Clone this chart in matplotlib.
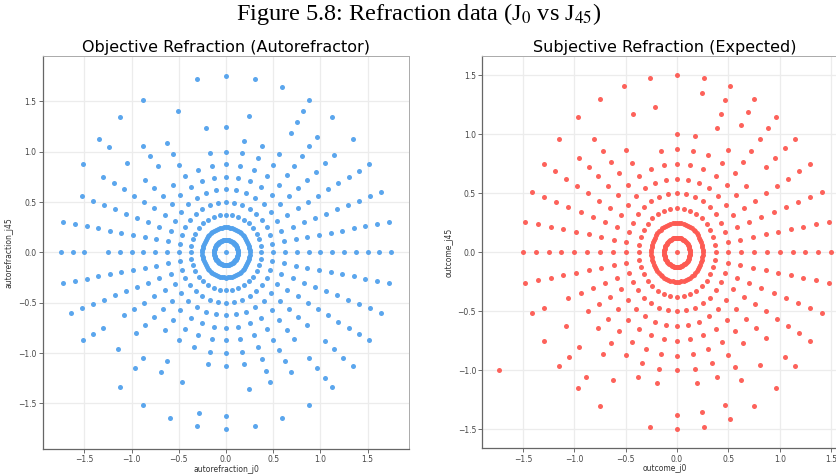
import numpy as np
import matplotlib
matplotlib.use("Agg")
import matplotlib.pyplot as plt

plt.rcParams['mathtext.fontset'] = 'stix'

# ---------------- data (polar form: magnitude of the J0/J45 vector, direction in degrees) ----
SPOKES = [0, 10, 20, 30, 40, 50, 60, 70, 80, 90, 100, 110, 120, 130, 140, 150, 160, 170,
          180, 190, 200, 210, 220, 230, 240, 250, 260, 270, 280, 290, 300, 310, 320, 330, 340, 350]
SPOKES_FINE = [0, 5, 10, 15, 20, 25, 30, 35, 40, 45, 50, 55, 60, 65, 70, 75, 80, 85, 90, 95,
               100, 105, 110, 115, 120, 125, 130, 135, 140, 145, 150, 155, 160, 165, 170, 175,
               180, 185, 190, 195, 200, 205, 210, 215, 220, 225, 230, 235, 240, 245, 250, 255,
               260, 265, 270, 275, 280, 285, 290, 295, 300, 305, 310, 315, 320, 325, 330, 335,
               340, 345, 350, 355]

# Objective refraction (autorefractor)
auto_dense_rings = [0.125, 0.25]
auto_full_rings = [0.375, 0.5, 0.625, 0.75, 0.875]
auto_r100 = [s for s in SPOKES if s not in (110, 130)]
auto_r1125 = [0, 10, 20, 30, 40, 50, 60, 70, 80, 120, 130, 140, 150, 160, 170, 180, 190, 200,
              210, 220, 260, 270, 280, 290, 300, 310, 320, 330, 340, 350]
auto_r125 = [0, 10, 20, 30, 40, 50, 90, 100, 120, 130, 150, 160, 170, 180, 190, 200, 210, 220,
             240, 290, 300, 330, 340, 350]
auto_r1375 = [0, 10, 20, 30, 40, 50, 60, 80, 130, 140, 150, 160, 170, 190, 200, 230, 240, 250,
              280, 290, 300, 310, 320, 330, 340, 350]
auto_r150 = [0, 10, 20, 30, 40, 50, 60, 110, 150, 160, 170, 180, 190, 200, 210, 220, 230,
             310, 320, 330, 340, 350]
auto_r1625 = [0, 10, 20, 30, 60, 140, 160, 170, 180, 190, 200, 210, 260, 270, 310, 320, 330,
              340, 350]
auto_r175 = [0, 10, 20, 30, 40, 50, 60, 70, 80, 90, 100, 120, 130, 140, 150, 170, 180, 190,
             200, 210, 230, 240, 250, 260, 270, 280, 290, 300, 310, 320, 330, 340, 350]

# Subjective refraction (expected)
subj_dense_rings = [0.125, 0.25]
subj_full_rings = [0.375, 0.5, 0.625, 0.75]
subj_r0875 = [s for s in SPOKES if s != 110]
subj_r100 = [s for s in SPOKES if s not in (40, 70, 100, 110)]
subj_r1125 = [0, 10, 20, 30, 40, 50, 70, 130, 140, 150, 160, 170, 180, 190, 200, 230, 250,
              260, 280, 290, 300, 320, 330, 340, 350]
subj_r125 = [0, 10, 20, 30, 40, 50, 60, 70, 100, 110, 130, 140, 150, 160, 170, 180, 190, 210,
             220, 240, 300, 310, 330, 340, 350]
subj_r1375 = [0, 10, 20, 30, 40, 50, 60, 70, 80, 150, 160, 170, 180, 190, 200, 220, 230, 270,
              280, 290, 320, 330, 340, 350]
subj_r150 = [s for s in SPOKES if s != 250]
subj_extra_r = [2.0]
subj_extra_deg = [210]


def rings_to_xy(ring_list):
    xs, ys = [0.0], [0.0]
    for r, angs in ring_list:
        a = np.deg2rad(np.asarray(angs, dtype=float))
        xs.extend(r * np.cos(a))
        ys.extend(r * np.sin(a))
    return np.array(xs), np.array(ys)


auto_rings = ([(r, SPOKES_FINE) for r in auto_dense_rings]
              + [(r, SPOKES) for r in auto_full_rings]
              + [(1.0, auto_r100), (1.125, auto_r1125), (1.25, auto_r125), (1.375, auto_r1375),
                 (1.5, auto_r150), (1.625, auto_r1625), (1.75, auto_r175)])
subj_rings = ([(r, SPOKES_FINE) for r in subj_dense_rings]
              + [(r, SPOKES) for r in subj_full_rings]
              + [(0.875, subj_r0875), (1.0, subj_r100), (1.125, subj_r1125), (1.25, subj_r125),
                 (1.375, subj_r1375), (1.5, subj_r150)]
              + [(r, [d]) for r, d in zip(subj_extra_r, subj_extra_deg)])

ax_x, ax_y = rings_to_xy(auto_rings)
sj_x, sj_y = rings_to_xy(subj_rings)

BLUE = '#52a1ec'
RED = '#fd5a52'

W, H = 837, 475
fig = plt.figure(figsize=(W / 100, H / 100), dpi=100)

axL = fig.add_axes([42.7 / W, 26 / H, 366.6 / W, 393 / H])
axR = fig.add_axes([482.3 / W, 26.7 / H, 365.4 / W, 392.3 / H])

ticks = [-1.5, -1.0, -0.5, 0.0, 0.5, 1.0, 1.5]


def style(ax):
    ax.set_facecolor('white')
    ax.grid(True, color='#ececec', linewidth=0.9)
    ax.set_axisbelow(True)
    ax.set_xticks(ticks)
    ax.set_yticks(ticks)
    ax.tick_params(labelsize=5.5, colors='#555555', length=3, width=0.6,
                   labelcolor='#444444', pad=1.5)
    for side in ('left', 'bottom'):
        ax.spines[side].set_color('#666666')
        ax.spines[side].set_linewidth(0.9)
    for side in ('top', 'right'):
        ax.spines[side].set_color('#aaaaaa')
        ax.spines[side].set_linewidth(0.7)


axL.scatter(ax_x, ax_y, s=13, color=BLUE, linewidths=0, alpha=0.95, zorder=3)
axL.set_xlim(-1.942, 1.942)
axL.set_ylim(-1.953, 1.951)
style(axL)
axL.set_xlabel('autorefraction_j0', fontsize=5.5, color='#333333', labelpad=0.5)
axL.set_ylabel('autorefraction_j45', fontsize=5.5, color='#333333', labelpad=3)
axL.set_title('Objective Refraction (Autorefractor)', fontsize=11.5, pad=3)

axR.scatter(sj_x, sj_y, s=13, color=RED, linewidths=0, alpha=0.95, zorder=3)
axR.set_xlim(-1.896, 1.662)
axR.set_ylim(-1.661, 1.664)
style(axR)
axR.set_xlabel('outcome_j0', fontsize=5.5, color='#333333', labelpad=0.5)
axR.set_ylabel('outcome_j45', fontsize=5.5, color='#333333', labelpad=3)
axR.set_title('Subjective Refraction (Expected)', fontsize=11.5, pad=3)

fig.suptitle('Figure 5.8: Refraction data (J$_0$ vs J$_{45}$)', fontsize=17.5,
             family='Liberation Serif', y=0.997, va='top')

fig.savefig('out.png', dpi=100)
